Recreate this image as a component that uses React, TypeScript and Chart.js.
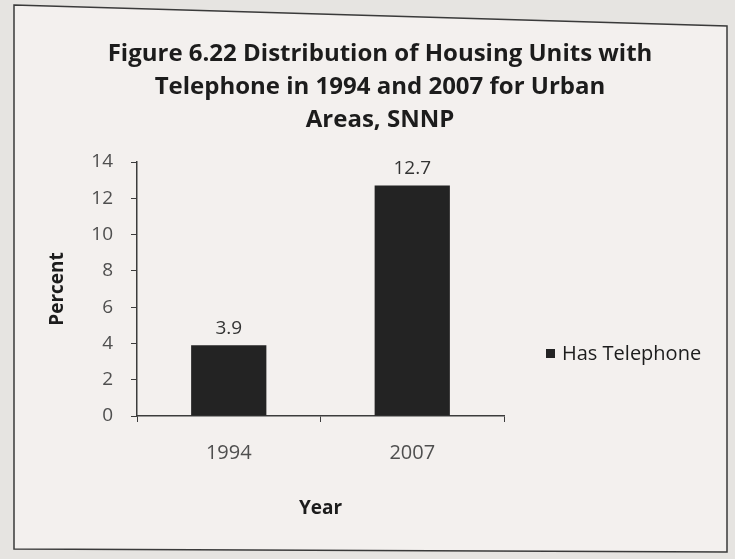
import React, { useEffect, useRef } from "react";
import { Chart, registerables } from "chart.js";

Chart.register(...registerables);

const categories = ["1994", "2007"];
const seriesLabel = "Has Telephone";
const hasTelephone = [3.9, 12.7];
const yMin = 0;
const yMax = 14;
const yStep = 2;
const titleLines = [
  "Figure 6.22 Distribution of Housing Units with",
  "Telephone in 1994 and 2007 for Urban",
  "Areas, SNNP",
];
const yAxisTitle = "Percent";
const xAxisTitle = "Year";

const FONT = "'Open Sans'";
const BAR_COLOR = "#232323";
const TEXT_DARK = "#1c1c1c";
const TEXT_TICK = "#4f4f4f";

export default function App() {
  const ref = useRef<HTMLCanvasElement>(null);

  useEffect(() => {
    if (!ref.current) return;

    const paper = {
      id: "paper",
      beforeDraw(chart: any) {
        const ctx = chart.ctx;
        ctx.save();
        ctx.fillStyle = "#e6e4e1";
        ctx.fillRect(0, 0, chart.width, chart.height);
        ctx.beginPath();
        ctx.moveTo(14, 5);
        ctx.lineTo(727, 26);
        ctx.lineTo(727, 552);
        ctx.lineTo(14, 549);
        ctx.closePath();
        ctx.fillStyle = "#f3f0ee";
        ctx.fill();
        ctx.lineWidth = 1.5;
        ctx.strokeStyle = "#3a3a3a";
        ctx.stroke();
        ctx.restore();
      },
    };

    const valueLabels = {
      id: "valueLabels",
      afterDatasetsDraw(chart: any) {
        const ctx = chart.ctx;
        const meta = chart.getDatasetMeta(0);
        const data = chart.data.datasets[0].data as number[];
        ctx.save();
        ctx.font = `19px ${FONT}`;
        ctx.fillStyle = "#333333";
        ctx.textAlign = "center";
        ctx.textBaseline = "bottom";
        meta.data.forEach((bar: any, i: number) => {
          ctx.fillText(String(data[i]), bar.x, bar.y - 7);
        });
        ctx.restore();
      },
    };

    const sideLegend = {
      id: "sideLegend",
      afterDraw(chart: any) {
        const ctx = chart.ctx;
        const ds = chart.data.datasets[0];
        const x = chart.chartArea.right + 42;
        const y = chart.chartArea.top + 192;
        ctx.save();
        ctx.fillStyle = ds.backgroundColor as string;
        ctx.fillRect(x, y - 5, 9, 9);
        ctx.font = `20px ${FONT}`;
        ctx.fillStyle = TEXT_DARK;
        ctx.textAlign = "left";
        ctx.textBaseline = "middle";
        ctx.fillText(ds.label as string, x + 16, y);
        ctx.restore();
      },
    };

    const chart = new Chart(ref.current, {
      type: "bar",
      data: {
        labels: categories,
        datasets: [
          {
            label: seriesLabel,
            data: hasTelephone,
            backgroundColor: BAR_COLOR,
            borderWidth: 0,
            barPercentage: 0.41,
            categoryPercentage: 1,
          },
        ],
      },
      options: {
        responsive: false,
        animation: false,
        layout: { padding: { left: 40, right: 15, top: 38, bottom: 10 } },
        plugins: {
          legend: { display: false },
          tooltip: { enabled: false },
          title: {
            display: true,
            text: titleLines,
            color: TEXT_DARK,
            font: { family: FONT, size: 24, weight: "bold", lineHeight: 1.375 },
            padding: { top: 0, bottom: 25 },
          },
        },
        scales: {
          x: {
            grid: {
              display: true,
              drawOnChartArea: false,
              drawTicks: true,
              tickLength: 6,
              color: "#3c3c3c",
              offset: true,
            },
            border: { display: true, color: "#3c3c3c", width: 1.5 },
            ticks: {
              color: TEXT_TICK,
              font: { family: FONT, size: 20 },
              padding: 19,
            },
            title: {
              display: true,
              text: xAxisTitle,
              color: TEXT_DARK,
              font: { family: FONT, size: 19, weight: "bold" },
              padding: { top: 0, bottom: 29 },
            },
            afterFit(scale: any) {
              scale.height = 133;
            },
          },
          y: {
            min: yMin,
            max: yMax,
            grid: {
              display: true,
              drawOnChartArea: false,
              drawTicks: true,
              tickLength: 6,
              color: "#3c3c3c",
            },
            border: { display: true, color: "#3c3c3c", width: 1.5 },
            ticks: {
              stepSize: yStep,
              color: TEXT_TICK,
              font: { family: FONT, size: 19 },
              padding: 18,
            },
            title: {
              display: true,
              text: yAxisTitle,
              color: TEXT_DARK,
              font: { family: FONT, size: 19, weight: "bold" },
              padding: { top: 6, bottom: 0 },
            },
            afterFit(scale: any) {
              scale.width = 97;
            },
          },
          legendSpace: {
            type: "linear",
            position: "right",
            display: true,
            grid: { display: false },
            border: { display: false },
            ticks: { display: false },
            afterFit(scale: any) {
              scale.width = 216;
            },
          },
        },
      },
      plugins: [paper, valueLabels, sideLegend],
    } as any);

    return () => chart.destroy();
  }, []);

  return (
    <div style={{ position: "fixed", left: 0, top: 0, width: 735, height: 559 }}>
      <canvas ref={ref} width={735} height={559} style={{ display: "block" }} />
    </div>
  );
}
